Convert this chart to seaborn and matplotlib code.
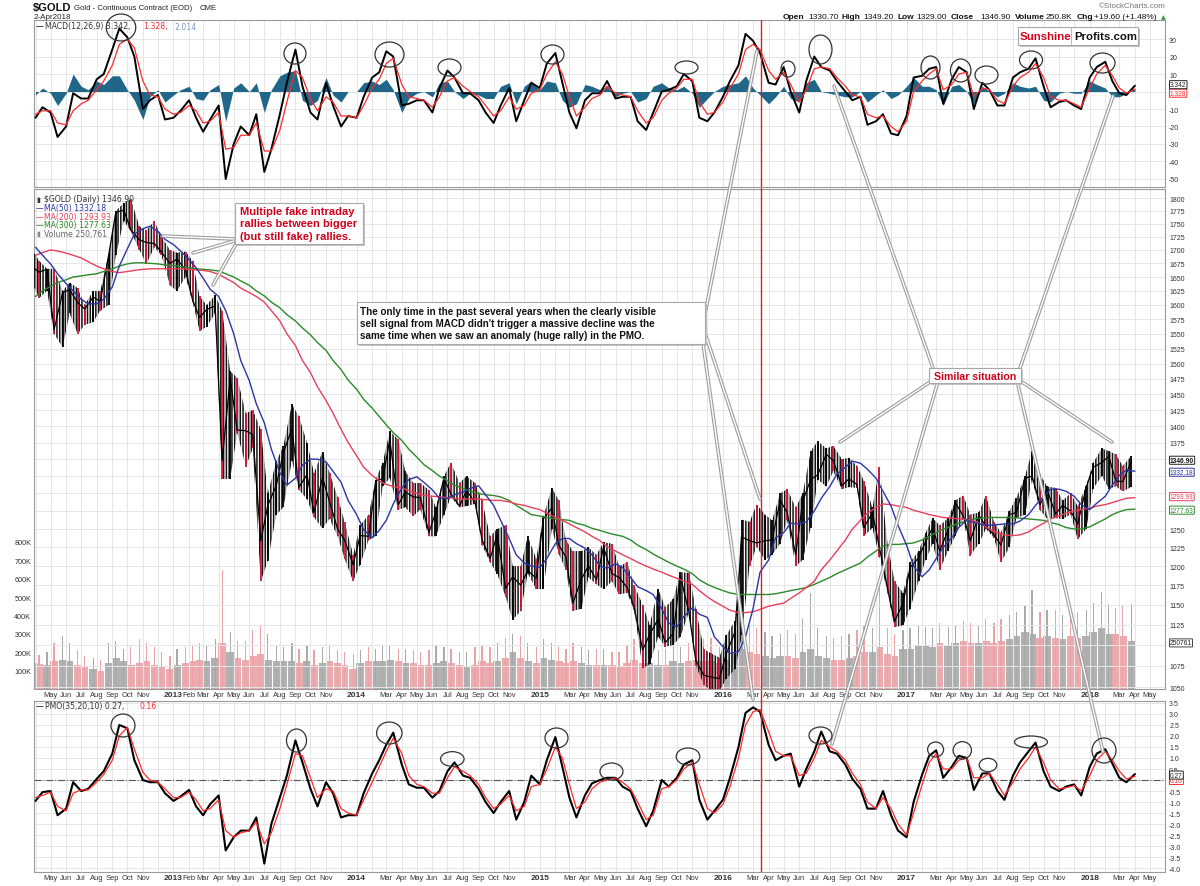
import seaborn as sns
import matplotlib.pyplot as plt
import matplotlib.transforms as mtransforms
from matplotlib.patches import Ellipse, Rectangle
from matplotlib.ticker import FixedLocator, NullLocator
import numpy as np
import pandas as pd

sns.set_theme(style='white')
plt.rcParams['font.family'] = ['Liberation Sans', 'DejaVu Sans']
plt.rcParams['axes.unicode_minus'] = False
plt.rcParams['hatch.linewidth'] = 1.1

# one value per half month, 2012-04-01 ... 2018-04-01 (145 points)
dates = pd.to_datetime([f'{y}-{m:02d}-{d:02d}' for y in range(2012, 2019)
                        for m in range(1, 13) for d in (1, 15)])
dates = dates[(dates >= '2012-04-01') & (dates <= '2018-04-01')]

close = [1669, 1659, 1664, 1557, 1622, 1627, 1604, 1593, 1614, 1606, 1691, 1772, 1776, 1738, 1719, 1714, 1712, 1696,
         1675, 1683, 1663, 1609, 1578, 1592, 1598, 1348, 1476, 1394, 1393, 1387, 1234, 1283, 1312, 1360, 1396, 1309, 1327, 1273, 1323, 1288, 1250, 1235,
         1202, 1241, 1240, 1318, 1321, 1379, 1284, 1302, 1295, 1294, 1245, 1274, 1322, 1299, 1282, 1304, 1287, 1235, 1210, 1242, 1171, 1186, 1175, 1194,
         1184, 1264, 1279, 1228, 1212, 1152, 1183, 1200, 1182, 1225, 1190, 1185, 1172, 1147, 1094, 1113, 1132, 1103, 1114, 1187, 1141, 1081, 1064, 1062,
         1060, 1090, 1116, 1239, 1234, 1231, 1234, 1235, 1290, 1273, 1215, 1289, 1320, 1327, 1357, 1348, 1311, 1321, 1313, 1252, 1273, 1224, 1171, 1129,
         1152, 1198, 1211, 1233, 1252, 1220, 1249, 1287, 1268, 1234, 1269, 1254, 1242, 1228, 1270, 1273, 1322, 1325, 1284, 1305, 1271, 1283, 1275, 1257,
         1309, 1338, 1345, 1354, 1318, 1317, 1346.9]
high = [1700, 1680, 1665, 1665, 1625, 1640, 1630, 1600, 1625, 1625, 1693, 1775, 1790, 1798, 1745, 1737, 1755, 1725,
        1700, 1695, 1697, 1680, 1615, 1600, 1617, 1590, 1487, 1477, 1420, 1425, 1395, 1300, 1347, 1370, 1434, 1415, 1375, 1330, 1361, 1330, 1295, 1260,
        1215, 1255, 1270, 1320, 1345, 1392, 1380, 1332, 1315, 1315, 1305, 1280, 1325, 1345, 1315, 1325, 1315, 1290, 1240, 1250, 1255, 1200, 1200, 1240,
        1210, 1267, 1308, 1290, 1235, 1220, 1220, 1225, 1215, 1232, 1230, 1200, 1205, 1175, 1150, 1125, 1170, 1147, 1157, 1192, 1191, 1145, 1095, 1090,
        1085, 1112, 1130, 1263, 1260, 1284, 1270, 1262, 1300, 1306, 1280, 1300, 1362, 1377, 1366, 1370, 1350, 1352, 1340, 1318, 1280, 1338, 1230, 1180,
        1165, 1205, 1220, 1245, 1265, 1255, 1265, 1290, 1297, 1270, 1273, 1297, 1260, 1245, 1275, 1294, 1325, 1362, 1328, 1310, 1308, 1290, 1300, 1282,
        1311, 1345, 1366, 1362, 1357, 1340, 1355]
low = [1640, 1612, 1625, 1550, 1527, 1585, 1550, 1565, 1570, 1590, 1600, 1690, 1755, 1735, 1700, 1674, 1705, 1690,
       1635, 1625, 1650, 1605, 1555, 1562, 1585, 1321, 1321, 1390, 1339, 1366, 1180, 1207, 1270, 1280, 1348, 1305, 1292, 1266, 1251, 1264, 1240, 1210,
       1180, 1202, 1235, 1240, 1310, 1322, 1277, 1280, 1268, 1277, 1240, 1240, 1270, 1295, 1280, 1282, 1285, 1228, 1205, 1190, 1160, 1131, 1142, 1190,
       1170, 1170, 1250, 1216, 1195, 1142, 1145, 1185, 1176, 1170, 1180, 1163, 1165, 1143, 1072, 1077, 1110, 1098, 1100, 1110, 1140, 1075, 1053, 1046,
       1046, 1060, 1071, 1112, 1200, 1226, 1208, 1215, 1230, 1262, 1200, 1208, 1252, 1320, 1310, 1332, 1306, 1309, 1308, 1241, 1251, 1212, 1165, 1122,
       1124, 1145, 1180, 1208, 1230, 1195, 1220, 1240, 1265, 1214, 1230, 1250, 1238, 1205, 1225, 1265, 1270, 1320, 1276, 1265, 1265, 1264, 1270, 1236,
       1250, 1307, 1325, 1307, 1310, 1303, 1309]
vol_typ = [140, 135, 130, 150, 160, 150, 130, 120, 110, 100, 140, 170, 150, 130, 140, 150, 130, 120,
           110, 130, 140, 150, 160, 150, 170, 250, 200, 170, 160, 180, 190, 160, 150, 150, 150, 140, 150, 130, 140, 150, 140, 130,
           110, 140, 150, 150, 150, 160, 150, 140, 140, 130, 130, 140, 150, 140, 130, 120, 130, 150, 140, 150, 170, 200, 170, 150,
           140, 170, 160, 150, 140, 150, 140, 130, 130, 130, 130, 120, 140, 160, 140, 140, 130, 130, 150, 140, 150, 160, 150, 150,
           140, 160, 190, 220, 200, 190, 180, 170, 180, 180, 170, 200, 220, 180, 170, 160, 160, 170, 180, 200, 200, 230, 190, 180,
           220, 220, 240, 240, 230, 250, 240, 250, 260, 250, 250, 260, 250, 260, 270, 290, 310, 300, 280, 290, 280, 270, 290, 280,
           290, 310, 330, 300, 300, 290, 260]
vol_peak = [190, 185, 200, 250, 290, 250, 210, 180, 170, 160, 250, 260, 220, 230, 270, 250, 230, 200,
            180, 220, 230, 240, 250, 240, 270, 650, 310, 260, 260, 320, 350, 300, 240, 230, 250, 220, 240, 210, 230, 240, 210, 200,
            190, 210, 230, 220, 240, 240, 220, 220, 210, 200, 210, 240, 230, 220, 200, 200, 230, 240, 230, 250, 280, 300, 290, 250,
            230, 270, 250, 230, 220, 250, 230, 210, 220, 220, 200, 200, 240, 270, 250, 230, 210, 220, 250, 230, 250, 260, 270, 280,
            230, 280, 320, 380, 350, 330, 310, 290, 300, 320, 300, 380, 520, 330, 290, 280, 290, 300, 320, 350, 330, 560, 330, 300,
            320, 330, 350, 340, 330, 360, 340, 350, 370, 360, 350, 380, 360, 380, 400, 420, 450, 540, 420, 430, 430, 400, 460, 420,
            430, 470, 530, 460, 440, 450, 460]
ma50 = [1705, 1690, 1674, 1656, 1638, 1625, 1610, 1602, 1602, 1610, 1632, 1670, 1702, 1730, 1740, 1745, 1735,
        1720, 1710, 1698, 1682, 1667, 1648, 1628, 1615, 1590, 1550, 1505, 1472, 1435, 1405, 1365, 1330, 1312, 1322, 1341, 1350, 1350, 1346, 1332, 1316,
        1290, 1270, 1249, 1238, 1248, 1262, 1285, 1308, 1320, 1324, 1316, 1305, 1293, 1293, 1298, 1302, 1307, 1311, 1298, 1283, 1262, 1237, 1215, 1204,
        1200, 1198, 1210, 1230, 1237, 1237, 1230, 1224, 1215, 1200, 1197, 1203, 1198, 1185, 1173, 1168, 1163, 1145, 1127, 1122, 1135, 1146, 1138, 1134,
        1110, 1098, 1090, 1092, 1110, 1145, 1192, 1208, 1238, 1245, 1258, 1257, 1260, 1275, 1293, 1310, 1328, 1338, 1347, 1344, 1335, 1322, 1303, 1282,
        1255, 1228, 1200, 1186, 1195, 1210, 1225, 1238, 1252, 1263, 1259, 1256, 1255, 1256, 1257, 1257, 1261, 1270, 1283, 1296, 1306, 1306, 1303, 1296,
        1284, 1277, 1286, 1296, 1312, 1326, 1334, 1332.18]
ma200 = [1690, 1695, 1700, 1698, 1694, 1690, 1685, 1678, 1670, 1665, 1660, 1658, 1660, 1662, 1664, 1665, 1665,
         1665, 1665, 1665, 1664, 1663, 1662, 1660, 1655, 1648, 1640, 1630, 1622, 1615, 1605, 1590, 1572, 1550, 1530, 1505, 1485, 1462, 1440, 1420, 1395,
         1375, 1355, 1338, 1326, 1318, 1313, 1310, 1308, 1304, 1300, 1297, 1296, 1295, 1294, 1293, 1292, 1292, 1292, 1291, 1290, 1290, 1288, 1285, 1283,
         1280, 1277, 1272, 1266, 1262, 1257, 1252, 1246, 1240, 1234, 1226, 1220, 1215, 1210, 1205, 1200, 1196, 1192, 1188, 1184, 1180, 1176, 1168, 1160,
         1154, 1148, 1143, 1140, 1140, 1141, 1144, 1148, 1150, 1152, 1158, 1165, 1172, 1180, 1195, 1208, 1220, 1235, 1250, 1262, 1272, 1280, 1285, 1284,
         1282, 1280, 1276, 1273, 1270, 1268, 1266, 1265, 1264, 1263, 1261, 1256, 1250, 1245, 1242, 1241, 1242, 1246, 1252, 1258, 1264, 1268, 1272, 1275,
         1277, 1279, 1282, 1284, 1287, 1290, 1293, 1293.93]
ma300 = [1615, 1625, 1633, 1640, 1645, 1650, 1652, 1654, 1656, 1660, 1665, 1670, 1674, 1676, 1676, 1675, 1674,
         1672, 1671, 1669, 1667, 1665, 1664, 1663, 1661, 1656, 1650, 1643, 1635, 1625, 1616, 1605, 1595, 1583, 1572, 1560, 1548, 1535, 1522, 1505, 1490,
         1473, 1458, 1442, 1428, 1415, 1402, 1390, 1378, 1365, 1353, 1342, 1333, 1325, 1318, 1312, 1307, 1303, 1300, 1298, 1297, 1295, 1290, 1283, 1276,
         1270, 1268, 1266, 1264, 1263, 1262, 1258, 1255, 1251, 1248, 1245, 1242, 1240, 1235, 1228, 1222, 1216, 1210, 1205, 1200, 1196, 1190, 1182, 1176,
         1172, 1168, 1165, 1163, 1163, 1163, 1163, 1163, 1164, 1166, 1168, 1170, 1172, 1176, 1180, 1185, 1190, 1195, 1199, 1204, 1212, 1220, 1227, 1229,
         1229, 1230, 1231, 1235, 1240, 1245, 1250, 1254, 1258, 1261, 1264, 1265, 1266, 1266, 1266, 1266, 1265, 1264, 1263, 1262, 1259, 1256, 1252, 1250,
         1250, 1253, 1258, 1264, 1270, 1274, 1277, 1277.63]
macd = [-15, -9, -12, -26, -20, -1, -4, -4, 7, 10, 24, 36, 31, 20, -10, -5, -2,
        -16, -15, -11, -5, -15, -23, -16, -8, -50, -30, -20, -25, -13, -46, -33, -13, 5, 24, 3, -12, -16, 5, -8, -20,
        -14, -15, -3, 8, 11, 23, 20, -8, -7, -5, -5, -12, 2, 12, 8, -1, -1, -5, -12, -18, -8, 2, -17, -5,
        5, 2, 16, 22, 5, -12, -21, -5, -1, -1, 6, -4, -3, -3, -17, -22, -12, 0, 1, 3, 10, 6, -15, -17,
        -12, -3, 6, 15, 33, 29, 22, 5, 4, 14, 0, -12, 6, 20, 14, 12, 6, 0, -5, -3, -19, -17, -13, -24,
        -25, -14, 8, 9, 13, 14, -7, 7, 14, 11, -10, 5, 1, -8, -8, 8, 11, 13, 19, 3, -9, -6, -5, -8,
        -10, 8, 14, 17, 6, -1, -2, 3.342]
macd_sig = [-13, -11, -11, -18, -19, -11, -7, -5, 1, 6, 15, 27, 30, 25, 6, -2, -3,
            -10, -13, -12, -8, -11, -18, -17, -12, -33, -32, -25, -25, -18, -34, -34, -22, -6, 12, 8, -4, -11, -3, -6, -14,
            -14, -15, -8, 2, 7, 16, 19, 4, -3, -4, -5, -9, -3, 6, 8, 3, 0, -3, -8, -14, -11, -3, -10, -8,
            -1, 1, 10, 17, 10, -3, -14, -9, -4, -2, 3, -1, -2, -3, -11, -18, -15, -5, -1, 2, 7, 7, -6, -13,
            -12, -6, 2, 10, 24, 27, 24, 12, 7, 11, 4, -6, 1, 13, 14, 13, 8, 3, -2, -3, -13, -15, -14, -20,
            -23, -17, 0, 6, 10, 13, 1, 4, 10, 11, -3, 2, 1, -5, -7, 3, 8, 11, 16, 8, -3, -5, -5, -7,
            -9, 2, 10, 15, 9, 2, -1, 1.328]
pmo = [-0.95, -0.55, -0.5, -1.6, -1.3, -0.1, -0.5, -0.4, 0.05, 0.4, 1.2, 2.5, 2.35, 0.9, 0.0, -0.1, -0.1,
       -0.6, -0.95, -0.75, -0.45, -1.2, -1.6, -1.1, -0.7, -3.2, -2.6, -2.3, -2.3, -1.7, -3.8, -2.0, -0.8, 0.2, 1.8, 0.8, -0.4, -1.2, -0.1, -0.6, -1.7,
       -1.6, -1.6, -0.6, 0.3, 0.9, 1.6, 2.15, 0.7, -0.2, -0.35, -0.35, -0.8, -0.5, 0.4, 0.8, 0.2, 0.1, -0.4, -1.0, -1.5, -1.0, -0.5, -1.8, -1.0,
       0.2, -0.2, 0.9, 1.95, 0.6, -0.8, -1.7, -0.7, -0.15, 0.0, 0.1, 0.1, -0.3, -0.5, -1.3, -2.1, -1.4, 0.0, -0.3, 0.1, 0.7, 0.9, -0.9, -1.8,
       -1.4, -0.9, 0.1, 1.5, 3.05, 3.3, 3.1, 1.6, 0.9, 1.1, 1.2, -0.3, 0.5, 1.3, 2.2, 1.3, 1.2, 0.7, 0.05, -0.4, -1.3, -1.3, -0.5, -1.6,
       -2.3, -2.6, -1.0, 0.25, 1.1, 1.35, 0.1, 0.6, 1.1, 1.0, -0.45, 0.3, 0.3, -0.5, -0.9, 0.2, 0.8, 1.3, 1.7, 0.4, -0.3, -0.5, -0.3, -0.2,
       -0.7, 0.6, 1.2, 1.4, 0.75, 0.1, -0.1, 0.27]
pmo_sig = [-0.8, -0.7, -0.55, -1.2, -1.4, -0.6, -0.45, -0.45, -0.1, 0.25, 0.9, 2.0, 2.4, 1.4, 0.35, 0.0, -0.1,
           -0.4, -0.8, -0.8, -0.55, -0.9, -1.4, -1.3, -0.9, -2.3, -2.6, -2.4, -2.3, -1.9, -2.9, -2.4, -1.3, -0.2, 1.2, 1.1, 0.1, -0.8, -0.4, -0.5, -1.3,
           -1.5, -1.6, -0.9, -0.1, 0.6, 1.3, 1.9, 1.2, 0.2, -0.2, -0.3, -0.6, -0.6, 0.1, 0.6, 0.4, 0.2, -0.2, -0.8, -1.3, -1.1, -0.7, -1.4, -1.2,
           -0.3, -0.2, 0.5, 1.5, 1.0, -0.2, -1.3, -1.0, -0.4, -0.1, 0.0, 0.1, -0.1, -0.4, -1.0, -1.8, -1.6, -0.4, -0.3, 0.0, 0.5, 0.8, -0.2, -1.3,
           -1.5, -1.1, -0.3, 1.0, 2.5, 3.1, 3.2, 2.2, 1.3, 1.1, 1.1, 0.2, 0.3, 1.0, 1.8, 1.5, 1.3, 0.9, 0.3, -0.2, -1.0, -1.3, -0.8, -1.3,
           -2.0, -2.5, -1.5, -0.2, 0.8, 1.2, 0.5, 0.5, 0.9, 1.0, 0.1, 0.1, 0.3, -0.2, -0.7, -0.1, 0.5, 1.0, 1.5, 0.8, 0.0, -0.4, -0.35, -0.25,
           -0.5, 0.2, 0.9, 1.3, 0.9, 0.4, 0.05, 0.16]

df = pd.DataFrame({'date': dates, 'close': close, 'high': high, 'low': low,
                   'vol_typ': vol_typ, 'vol_peak': vol_peak, 'ma50': ma50, 'ma200': ma200,
                   'ma300': ma300, 'macd': macd, 'macd_sig': macd_sig, 'pmo': pmo, 'pmo_sig': pmo_sig})

sell_signal = pd.Timestamp('2016-03-17')

RED_C = '#d0173c'
BLUE = '#2b35a8'
MA_RED = '#e8405a'
GREEN = '#2a8a2a'
TEAL = '#1f6688'
SIG_RED = '#ff2a2a'
GRID = '#e6e6e6'

W, H = 1200, 887
fig = plt.figure(figsize=(W / 100, H / 100), dpi=100)


def rect(x0, y0, x1, y1):
    return [x0 / W, 1 - y1 / H, (x1 - x0) / W, (y1 - y0) / H]


ax_m = fig.add_axes(rect(34, 21, 1165, 188))
ax_p = fig.add_axes(rect(34, 190, 1165, 690))
ax_o = fig.add_axes(rect(34, 702, 1165, 873))
ax_v = ax_p.twinx()
ax_p.set_zorder(2)
ax_v.set_zorder(1)
ax_p.patch.set_visible(False)

# ---- price panel: half-month high/low band, striped like dense candles ----
opn = np.r_[df['close'].iloc[0], df['close'].values[:-1]]
cl = df['close'].values
up = cl >= opn
bx = df['date'] - pd.Timedelta(days=7)
ax_p.fill_between(bx, df['low'], df['high'], facecolor='none', edgecolor='#151515',
                  hatch='||||||', lw=0, zorder=3)
ax_p.vlines(bx[~up], df['low'][~up], df['high'][~up], color=RED_C, lw=1.3, zorder=3.2)
ax_p.vlines(bx[up], df['low'][up], df['high'][up], color='black', lw=1.3, zorder=3.2)
sns.lineplot(x=bx, y=cl, ax=ax_p, color='black', lw=0.9, zorder=3.3)

sns.lineplot(data=df, x='date', y='ma300', ax=ax_p, color=GREEN, lw=1.0, zorder=4)
sns.lineplot(data=df, x='date', y='ma200', ax=ax_p, color=MA_RED, lw=1.0, zorder=4)
sns.lineplot(data=df, x='date', y='ma50', ax=ax_p, color=BLUE, lw=1.0, zorder=4)

vcol = np.where(up, '#a9a9a9', '#eaa2a6')
ax_v.bar(bx, df['vol_typ'], width=15, color=vcol, edgecolor='none', alpha=0.9)
ax_v.bar(bx, df['vol_peak'], width=2.5, color=vcol, edgecolor='none')

ax_p.set_yscale('log')
ax_p.set_ylim(1048, 1818)
pt = list(range(1050, 1801, 25))
hidden_p = {1100, 1275, 1300, 1325, 1350}  # covered by the value tags
ax_p.yaxis.set_major_locator(FixedLocator(pt))
ax_p.yaxis.set_minor_locator(NullLocator())
ax_p.set_yticklabels(['' if v in hidden_p else str(v) for v in pt])
ax_p.yaxis.tick_right()

ax_v.set_ylim(0, 2720)
vt = [100, 200, 300, 400, 500, 600, 700, 800]
ax_v.set_yticks(vt)
ax_v.set_yticklabels([f'{v}K' for v in vt])
ax_v.yaxis.tick_left()
ax_v.tick_params(axis='y', length=0, pad=2, labelsize=5.2, labelcolor='#333')
ax_v.grid(False)

# ---- MACD panel ----
hist = df['macd'] - df['macd_sig']
ax_m.fill_between(df['date'], 0, hist, color=TEAL, lw=0, zorder=2)
sns.lineplot(data=df, x='date', y='macd', ax=ax_m, color='black', lw=1.4, zorder=3)
sns.lineplot(data=df, x='date', y='macd_sig', ax=ax_m, color=SIG_RED, lw=0.9, zorder=4)
ax_m.set_ylim(-54.6, 40.9)
mt = list(range(-50, 31, 10))
ax_m.set_yticks(mt)
ax_m.set_yticklabels(['' if v == 0 else str(v) for v in mt])
ax_m.yaxis.tick_right()

# ---- PMO panel ----
ax_o.axhline(0, color='#555555', lw=0.8, ls='-.', zorder=2)
sns.lineplot(data=df, x='date', y='pmo', ax=ax_o, color='black', lw=1.5, zorder=3)
sns.lineplot(data=df, x='date', y='pmo_sig', ax=ax_o, color=SIG_RED, lw=0.9, zorder=4)
ax_o.set_ylim(-4.18, 3.59)
ot = [v / 2 for v in range(-8, 8)]
ax_o.set_yticks(ot)
ax_o.set_yticklabels(['' if v == 0 else f'{v:.1f}' for v in ot])
ax_o.yaxis.tick_right()

# ---- shared x axis look ----
months = pd.date_range('2012-04-01', '2018-05-01', freq='MS')


def month_name(i, d):
    if i == 0 or d.month == 12:
        return ''
    if d.month == 1:
        return str(d.year)
    if d.month == 2 and d.year != 2013:
        return ''
    return d.strftime('%b')


names = [month_name(i, d) for i, d in enumerate(months)]
for ax in (ax_m, ax_p, ax_o):
    ax.set_xlim(pd.Timestamp('2012-03-29'), pd.Timestamp('2018-05-31'))
    ax.set_xticks(months)
    ax.set_xlabel('')
    ax.set_ylabel('')
    ax.grid(True, color=GRID, lw=0.7)
    ax.set_axisbelow(True)
    ax.tick_params(axis='both', length=0, labelsize=5.0, labelcolor='#333', pad=3)
    for s in ax.spines.values():
        s.set_color('#9a9a9a')
        s.set_linewidth(0.8)
    ax.axvline(sell_signal, color='#e02020', lw=1.0, zorder=5)
ax_m.tick_params(axis='x', labelbottom=False)
for ax in (ax_p, ax_o):
    ax.set_xticklabels(names)
    ax.tick_params(axis='x', pad=1.5, labelsize=5.4)
    for lbl, d in zip(ax.get_xticklabels(), months):
        if d.month == 1:
            lbl.set_fontweight('bold')
            lbl.set_fontsize(6.0)
ax_v.set_xlim(ax_p.get_xlim())
for s in ax_v.spines.values():
    s.set_visible(False)
gap = mtransforms.blended_transform_factory(ax_p.transData, ax_p.transAxes)
ax_p.plot([sell_signal, sell_signal], [-0.026, 0], transform=gap, color='#e02020', lw=1.0, clip_on=False)
gap2 = mtransforms.blended_transform_factory(ax_m.transData, ax_m.transAxes)
ax_m.plot([sell_signal, sell_signal], [-0.015, 0], transform=gap2, color='#e02020', lw=1.0, clip_on=False)


# ---- value tags at the right edge ----
def tag(ax, y, txt, ec, tc, bold=False, dy=0.0, z=20):
    tr = mtransforms.blended_transform_factory(ax.transAxes, ax.transData)
    off = mtransforms.offset_copy(tr, fig=fig, x=0, y=dy, units='dots')
    ax.text(1.0 + 5 / 1131, y, txt, transform=off, ha='left', va='center', fontsize=4.8,
            color=tc, fontweight='bold' if bold else 'normal', clip_on=False, zorder=z,
            bbox=dict(boxstyle='round,pad=0.08', fc='white', ec=ec, lw=0.7))


tag(ax_m, 1.328, '1.328', SIG_RED, SIG_RED, dy=-4, z=19)
tag(ax_m, 3.342, '3.342', '#222222', '#222222', dy=1)
tag(ax_p, 1277.63, '1277.63', GREEN, GREEN, dy=-1)
tag(ax_p, 1293.93, '1293.93', MA_RED, MA_RED, dy=1)
tag(ax_p, 1332.18, '1332.18', BLUE, BLUE, dy=-1)
tag(ax_p, 1346.9, '1346.90', '#222222', '#111111', bold=True, dy=1)
tag(ax_v, 250.761, '250761', '#444444', '#222222')
tag(ax_o, 0.16, '0.16', SIG_RED, SIG_RED, dy=-4, z=19)
tag(ax_o, 0.27, '0.27', '#222222', '#222222', dy=-1)

# ---- overlay for titles, notes and callouts (pixel coordinates) ----
ov = fig.add_axes([0, 0, 1, 1], zorder=10)
ov.set_xlim(0, W)
ov.set_ylim(H, 0)
ov.axis('off')
ov.patch.set_visible(False)

ov.text(33, 8, '$GOLD', fontsize=8, fontweight='bold', va='center', color='#111')
ov.text(74, 8, 'Gold - Continuous Contract (EOD)', fontsize=5.6, va='center', color='#222')
ov.text(200, 8, 'CME', fontsize=5.6, va='center', color='#222')
ov.text(34, 17.5, '2-Apr2018', fontsize=5.8, va='center', color='#222')
ov.text(1166, 6, '\u00a9StockCharts.com', fontsize=5.8, va='center', ha='right', color='#777')
for x, t, b in [(783, 'Open', True), (808, '1330.70', False), (842, 'High', True), (863, '1349.20', False),
                (897, 'Low', True), (916, '1329.00', False), (951, 'Close', True), (980, '1346.90', False),
                (1015, 'Volume', True), (1046, '250.8K', False), (1077, 'Chg', True),
                (1094, '+19.60 (+1.48%)', False)]:
    ov.text(x, 17.5, t, fontsize=6.0, va='center', color='#111', fontweight='bold' if b else 'normal')
ov.text(1161, 17.5, '\u25b2', fontsize=4.5, va='center', color='#2a9a2a', family='DejaVu Sans')

lg = dict(fontsize=5.6, va='center', family='DejaVu Sans')
ov.text(36, 27, '\u2014', color='#111', **lg)
ov.text(45, 27, 'MACD(12,26,9) 3.342,', color='#333', **lg)
ov.text(143, 27, '1.328,', color=SIG_RED, **lg)
ov.text(174, 27, '2.014', color='#7a9cc6', **lg)
ov.text(36, 707, '\u2014', color='#111', **lg)
ov.text(45, 707, 'PMO(35,20,10) 0.27,', color='#333', **lg)
ov.text(139, 707, '0.16', color=SIG_RED, **lg)
ov.text(36, 200, '\u25ae', color='#333', fontsize=5, va='center', family='DejaVu Sans')
ov.text(44, 200, '$GOLD (Daily) 1346.90', color='#333', **lg)
for y, t, c in [(209, 'MA(50) 1332.18', BLUE), (217.5, 'MA(200) 1293.93', MA_RED),
                (226, 'MA(300) 1277.63', GREEN)]:
    ov.text(36, y, '\u2014', color=c, **lg)
    ov.text(44, y, t, color=c, **lg)
ov.text(36, 234.5, '\u25ae', color='#888', fontsize=5, va='center', family='DejaVu Sans')
ov.text(44, 234.5, 'Volume 250,761', color='#666', **lg)

# callout wedges
callouts = [((234, 240), (163, 237)), ((234, 242), (193, 254)), ((236, 245), (213, 286)),
            ((703, 325), (757, 52)), ((703, 328), (760, 500)), ((701, 330), (753, 700)),
            ((933, 369), (834, 87)), ((1020, 369), (1113, 97)), ((930, 383), (840, 443)),
            ((1022, 383), (1112, 443)), ((937, 386), (832, 745)), ((1018, 386), (1103, 753))]
for (x0, y0), (x1, y1) in callouts:
    ov.plot([x0, x1], [y0, y1], color='#9c9c9c', lw=2.6, solid_capstyle='round', zorder=1)
    ov.plot([x0, x1], [y0, y1], color='white', lw=1.0, zorder=1.1)

rings = [(121, 28.5, 29.5, 27), (295, 54.5, 22, 21), (389.5, 55.5, 29, 25), (449.5, 68.5, 23, 17),
         (552.5, 55.5, 23, 19), (686.5, 68.5, 23, 13), (788, 70, 14, 16), (820.5, 50.5, 23, 29),
         (930.5, 68.5, 19, 23), (960.7, 71.5, 20.5, 23), (986.5, 76, 23, 18), (1031, 61, 23, 18),
         (1102.5, 64, 25, 20),
         (123, 726.5, 24, 23), (296.5, 741.5, 20, 23), (389.3, 734, 25.4, 22), (452.3, 760, 23.5, 14.7),
         (556.5, 739, 23, 20), (611.5, 772.5, 23, 17), (688, 757.5, 23.6, 17), (820.5, 736.5, 23, 17),
         (935.6, 750.5, 16, 15), (962.3, 751.3, 18.4, 17.3), (988, 766, 17.6, 13.3), (1031, 743, 33, 12),
         (1104, 751.5, 24, 25)]
for cx, cy, w, h in rings:
    ov.add_patch(Ellipse((cx, cy), w, h, fill=False, ec='#333333', lw=0.9, zorder=2))


def note(x0, y0, x1, y1, lines, ys, xt, color, fs, center=False):
    ov.add_patch(Rectangle((x0 + 2, y0 + 2), x1 - x0, y1 - y0, fc='#c4c4c4', ec='none', zorder=3))
    ov.add_patch(Rectangle((x0, y0), x1 - x0, y1 - y0, fc='white', ec='#a8a8a8', lw=0.8, zorder=3.1))
    for t, y in zip(lines, ys):
        ov.text(xt, y, t, color=color, fontsize=fs, fontweight='bold', va='center',
                ha='center' if center else 'left', zorder=4)


note(235, 204, 363, 245, ['Multiple fake intraday', 'rallies between bigger', '(but still fake) rallies.'],
     [212, 224.5, 237], 239.5, '#d0021b', 8.0)
note(357, 303, 705, 345, ['The only time in the past several years when the clearly visible',
                          "sell signal from MACD didn't trigger a massive decline was the",
                          'same time when we saw an anomaly (huge rally) in the PMO.'],
     [312.5, 324.5, 336.5], 360.5, '#111111', 7.1)
note(929, 369, 1021, 384, ['Similar situation'], [376.7], 975, '#d0021b', 7.6, center=True)

# Sunshine Profits logo
ov.add_patch(Rectangle((1020, 30), 120, 18, fc='#c4c4c4', ec='none', zorder=3))
ov.add_patch(Rectangle((1018, 28), 120, 18, fc='white', ec='#a8a8a8', lw=0.8, zorder=3.1))
ov.plot([1071, 1071], [29, 45], color='#bbbbbb', lw=0.8, zorder=3.2)
ov.text(1020, 37, 'Sunshine', color='#d0021b', fontsize=8.2, fontweight='bold', va='center', zorder=4)
ov.text(1074, 37, 'Profits.com', color='#111111', fontsize=8.2, fontweight='bold', va='center', zorder=4)

fig.savefig('out.png', dpi=100)
